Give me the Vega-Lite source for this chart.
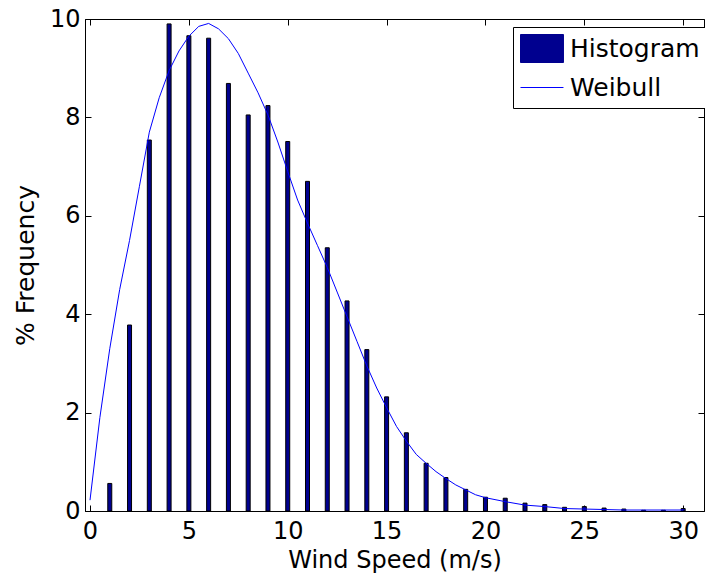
{
  "$schema": "https://vega.github.io/schema/vega-lite/v6.json",
  "autosize": {"type": "none"},
  "padding": {"left": 85, "top": 19, "right": 1, "bottom": 63},
  "width": 619,
  "height": 492,
  "background": "white",
  "config": {
    "font": "DejaVu Sans",
    "view": {"stroke": "black", "strokeWidth": 1},
    "axis": {
      "grid": false,
      "domainColor": "black",
      "tickColor": "black",
      "labelColor": "black",
      "titleColor": "black",
      "labelFont": "DejaVu Sans",
      "titleFont": "DejaVu Sans",
      "labelFontSize": 24,
      "titleFontSize": 24,
      "titleFontWeight": "normal",
      "tickSize": -6
    },
    "legend": {
      "title": null,
      "orient": "none",
      "legendX": 428,
      "legendY": 8,
      "strokeColor": "black",
      "fillColor": "white",
      "padding": 7,
      "labelFont": "DejaVu Sans",
      "labelFontSize": 25,
      "labelColor": "black",
      "labelOffset": 21,
      "symbolSize": 784,
      "rowPadding": 8,
      "cornerRadius": 0
    }
  },
  "datasets": {
    "hist": [
      {"speed": 1, "freq": 0.56}, {"speed": 2, "freq": 3.78}, {"speed": 3, "freq": 7.54},
      {"speed": 4, "freq": 9.90}, {"speed": 5, "freq": 9.66}, {"speed": 6, "freq": 9.61},
      {"speed": 7, "freq": 8.69}, {"speed": 8, "freq": 8.05}, {"speed": 9, "freq": 8.24},
      {"speed": 10, "freq": 7.51}, {"speed": 11, "freq": 6.70}, {"speed": 12, "freq": 5.35},
      {"speed": 13, "freq": 4.27}, {"speed": 14, "freq": 3.28}, {"speed": 15, "freq": 2.32},
      {"speed": 16, "freq": 1.59}, {"speed": 17, "freq": 0.97}, {"speed": 18, "freq": 0.68},
      {"speed": 19, "freq": 0.44}, {"speed": 20, "freq": 0.28}, {"speed": 21, "freq": 0.26},
      {"speed": 22, "freq": 0.16}, {"speed": 23, "freq": 0.13}, {"speed": 24, "freq": 0.075},
      {"speed": 25, "freq": 0.09}, {"speed": 26, "freq": 0.06}, {"speed": 27, "freq": 0.04},
      {"speed": 28, "freq": 0.015}, {"speed": 29, "freq": 0.015}, {"speed": 30, "freq": 0.05}
    ],
    "weibull": [
      {"speed": 0, "pdf": 0.22}, {"speed": 0.5, "pdf": 1.9}, {"speed": 1, "pdf": 3.3},
      {"speed": 1.5, "pdf": 4.5}, {"speed": 2, "pdf": 5.5}, {"speed": 2.5, "pdf": 6.6},
      {"speed": 3, "pdf": 7.7}, {"speed": 3.5, "pdf": 8.4}, {"speed": 4, "pdf": 8.95},
      {"speed": 4.5, "pdf": 9.35}, {"speed": 5, "pdf": 9.65}, {"speed": 5.5, "pdf": 9.85},
      {"speed": 6, "pdf": 9.91}, {"speed": 6.5, "pdf": 9.8}, {"speed": 7, "pdf": 9.6},
      {"speed": 7.5, "pdf": 9.3}, {"speed": 8, "pdf": 8.9}, {"speed": 8.5, "pdf": 8.5},
      {"speed": 9, "pdf": 8.05}, {"speed": 9.5, "pdf": 7.5}, {"speed": 10, "pdf": 6.9},
      {"speed": 10.5, "pdf": 6.32}, {"speed": 11, "pdf": 5.85}, {"speed": 11.5, "pdf": 5.4},
      {"speed": 12, "pdf": 4.95}, {"speed": 12.5, "pdf": 4.45}, {"speed": 13, "pdf": 3.95},
      {"speed": 13.5, "pdf": 3.45}, {"speed": 14, "pdf": 2.95}, {"speed": 14.5, "pdf": 2.5},
      {"speed": 15, "pdf": 2.1}, {"speed": 15.5, "pdf": 1.72}, {"speed": 16, "pdf": 1.42},
      {"speed": 16.5, "pdf": 1.15}, {"speed": 17, "pdf": 0.97}, {"speed": 17.5, "pdf": 0.8},
      {"speed": 18, "pdf": 0.66}, {"speed": 18.5, "pdf": 0.53}, {"speed": 19, "pdf": 0.43},
      {"speed": 19.5, "pdf": 0.33}, {"speed": 20, "pdf": 0.27}, {"speed": 21, "pdf": 0.19},
      {"speed": 22, "pdf": 0.12}, {"speed": 23, "pdf": 0.09}, {"speed": 24, "pdf": 0.05},
      {"speed": 25, "pdf": 0.04}, {"speed": 26, "pdf": 0.03}, {"speed": 27, "pdf": 0.02},
      {"speed": 28, "pdf": 0.02}, {"speed": 29, "pdf": 0.02}, {"speed": 30, "pdf": 0.02}
    ]
  },
  "resolve": {"axis": {"x": "independent", "y": "independent"}},
  "layer": [
    {
      "data": {"name": "hist"},
      "mark": {"type": "bar", "width": 4, "stroke": "black", "strokeWidth": 1, "clip": true},
      "encoding": {
        "x": {
          "field": "speed", "type": "quantitative",
          "scale": {"domain": [0, 30.8], "nice": false, "zero": false},
          "axis": {"orient": "bottom", "values": [0, 5, 10, 15, 20, 25, 30], "title": "Wind Speed (m/s)", "labelPadding": 14, "titlePadding": 5, "labelFlush": false}
        },
        "y": {
          "field": "freq", "type": "quantitative",
          "scale": {"domain": [0, 10], "nice": false},
          "axis": {"orient": "left", "values": [0, 2, 4, 6, 8, 10], "title": "% Frequency", "titleFontSize": 25, "labelPadding": 11, "titlePadding": 11}
        },
        "color": {
          "datum": "Histogram", "type": "nominal",
          "scale": {"domain": ["Histogram", "Weibull"], "range": ["#00008F", "#0000FF"]},
          "legend": {
            "encode": {
              "symbols": {
                "update": {
                  "shape": {"signal": "datum.value === 'Histogram' ? 'M-1,-1H2.07V1H-1Z' : 'M-1,0H2.07'"},
                  "fill": {"signal": "datum.value === 'Histogram' ? '#00008F' : 'transparent'"},
                  "stroke": {"signal": "datum.value === 'Histogram' ? 'black' : '#0000FF'"},
                  "strokeWidth": {"value": 1},
                  "opacity": {"value": 1}
                }
              }
            }
          }
        }
      }
    },
    {
      "data": {"name": "weibull"},
      "mark": {"type": "line", "strokeWidth": 1, "clip": true},
      "encoding": {
        "x": {
          "field": "speed", "type": "quantitative",
          "axis": {"orient": "top", "values": [0, 5, 10, 15, 20, 25, 30], "labels": false, "title": null, "domain": false}
        },
        "y": {
          "field": "pdf", "type": "quantitative",
          "axis": {"orient": "right", "values": [0, 2, 4, 6, 8, 10], "labels": false, "title": null, "domain": false}
        },
        "color": {
          "datum": "Weibull", "type": "nominal",
          "legend": {
            "encode": {
              "symbols": {
                "update": {
                  "shape": {"signal": "datum.value === 'Histogram' ? 'M-1,-1H2.07V1H-1Z' : 'M-1,0H2.07'"},
                  "fill": {"signal": "datum.value === 'Histogram' ? '#00008F' : 'transparent'"},
                  "stroke": {"signal": "datum.value === 'Histogram' ? 'black' : '#0000FF'"},
                  "strokeWidth": {"value": 1},
                  "opacity": {"value": 1}
                }
              }
            }
          }
        }
      }
    }
  ]
}
